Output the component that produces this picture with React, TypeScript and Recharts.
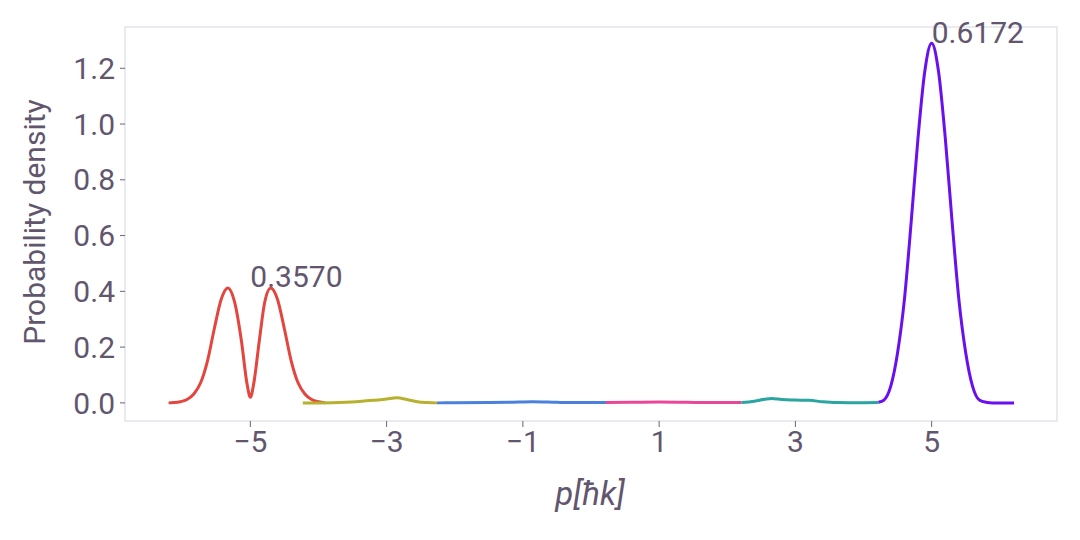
import React from 'react';
import { LineChart, Line, XAxis, YAxis, ReferenceArea, ReferenceDot } from 'recharts';

// momentum grid segments (p in units of hbar k) and read-off densities
const redP = [-6.2, -6.13, -6.03, -5.93, -5.83, -5.73, -5.63, -5.53, -5.43, -5.33, -5.23, -5.13, -5.05, -5.0, -4.95, -4.87, -4.79, -4.7, -4.6, -4.5, -4.4, -4.3, -4.2, -4.1, -4.0, -3.9];
const redY = [0, 0.001, 0.004, 0.012, 0.032, 0.072, 0.15, 0.265, 0.37, 0.412, 0.36, 0.22, 0.07, 0.02, 0.07, 0.22, 0.36, 0.412, 0.37, 0.265, 0.15, 0.072, 0.032, 0.012, 0.004, 0];

const oliveP = [-4.23, -4.0, -3.8, -3.6, -3.4, -3.2, -3.0, -2.85, -2.7, -2.55, -2.4, -2.26];
const oliveY = [0, 0, 0.0005, 0.002, 0.005, 0.009, 0.014, 0.018, 0.012, 0.004, 0.001, 0];

const blueP = [-2.26, -2.0, -1.5, -1.2, -0.86, -0.5, -0.2, 0.22];
const blueY = [0, 0.0005, 0.001, 0.002, 0.004, 0.002, 0.001, 0.001];

const pinkP = [0.22, 0.6, 1.0, 1.4, 1.8, 2.21];
const pinkY = [0.001, 0.002, 0.003, 0.002, 0.001, 0.001];

const tealP = [2.21, 2.4, 2.55, 2.65, 2.8, 3.0, 3.2, 3.4, 3.6, 3.8, 4.0, 4.22];
const tealY = [0.001, 0.006, 0.013, 0.016, 0.012, 0.01, 0.009, 0.004, 0.001, 0.0005, 0.0005, 0.001];

const purpleP = [4.22, 4.3, 4.4, 4.5, 4.6, 4.7, 4.8, 4.9, 5.0, 5.1, 5.2, 5.3, 5.4, 5.5, 5.6, 5.7, 5.8, 5.9, 6.05, 6.21];
const purpleY = [0.002, 0.01, 0.06, 0.18, 0.37, 0.65, 0.95, 1.19, 1.29, 1.19, 0.95, 0.65, 0.37, 0.18, 0.06, 0.01, 0.002, 0, 0, 0];

const xTicks = [-5, -3, -1, 1, 3, 5];
const yTicks = [0, 0.2, 0.4, 0.6, 0.8, 1.0, 1.2];

const annotations = [
  { x: -5, y: 0.415, text: '0.3570' },
  { x: 5, y: 1.29, text: '0.6172' },
];

const zip = (ps: number[], ys: number[]) => ps.map((p, i) => ({ x: p, y: ys[i] }));

const segments = [
  { name: 'red', color: '#e2463f', data: zip(redP, redY) },
  { name: 'olive', color: '#b7b12f', data: zip(oliveP, oliveY) },
  { name: 'blue', color: '#4b80dd', data: zip(blueP, blueY) },
  { name: 'pink', color: '#e94899', data: zip(pinkP, pinkY) },
  { name: 'teal', color: '#2ba5a1', data: zip(tealP, tealY) },
  { name: 'purple', color: '#6a0ff0', data: zip(purpleP, purpleY) },
];

const TEXT = '#62566e';
const FONT = 'Roboto, sans-serif';

const App: React.FC = () => {
  return (
    <div style={{ position: 'absolute', left: 0, top: 0, width: 1080, height: 540, background: '#fff' }}>
      <LineChart width={1080} height={540} margin={{ top: 27, right: 23, bottom: 0, left: 0 }}>
        <ReferenceArea x1={-6.84} x2={6.84} y1={-0.065} y2={1.348} fill="none" stroke="#e2e5ec" strokeWidth={1.5} />
        <XAxis
          type="number"
          dataKey="x"
          domain={[-6.84, 6.84]}
          ticks={xTicks}
          allowDataOverflow
          height={119}
          axisLine={false}
          tickSize={6}
          tickMargin={4}
          tickLine={{ stroke: '#6b6475' }}
          tick={{ fontSize: 30, fill: TEXT, fontFamily: FONT }}
          tickFormatter={(v: number) => String(v).replace('-', '\u2212')}
          label={{
            content: () => (
              <text x={590} y={505} textAnchor="middle" fontSize={33} fontStyle="italic" fill={TEXT} fontFamily={FONT}>
                p[ħk]
              </text>
            ),
          }}
        />
        <YAxis
          type="number"
          domain={[-0.065, 1.348]}
          ticks={yTicks}
          allowDataOverflow
          width={125}
          axisLine={false}
          tickSize={5}
          tickMargin={5}
          tickLine={{ stroke: '#6b6475' }}
          tick={{ fontSize: 30, fill: TEXT, fontFamily: FONT }}
          tickFormatter={(v: number) => v.toFixed(1)}
          label={{
            content: () => (
              <text
                x={45}
                y={222}
                transform="rotate(-90, 45, 222)"
                textAnchor="middle"
                fontSize={30}
                fill={TEXT}
                fontFamily={FONT}
              >
                Probability density
              </text>
            ),
          }}
        />
        {segments.map((s) => (
          <Line
            key={s.name}
            data={s.data}
            dataKey="y"
            type="monotone"
            stroke={s.color}
            strokeWidth={3}
            dot={false}
            isAnimationActive={false}
          />
        ))}
        {annotations.map((a) => (
          <ReferenceDot
            key={a.text}
            x={a.x}
            y={a.y}
            r={0}
            shape={(props: any) => (
              <text x={props.cx} y={props.cy} fontSize={30} fill={TEXT} fontFamily={FONT}>
                {a.text}
              </text>
            )}
          />
        ))}
      </LineChart>
    </div>
  );
};

export default App;
